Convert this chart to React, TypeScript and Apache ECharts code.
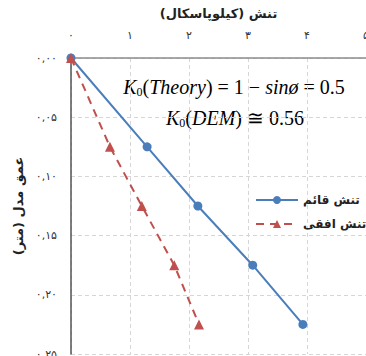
import React, { useEffect, useRef } from "react";
import * as echarts from "echarts";

const seriesNames = ["تنش قائم", "تنش افقی"];
const depth = [0, 0.075, 0.125, 0.175, 0.225];
const verticalStress = [0, 1.29, 2.15, 3.08, 3.93];
const horizontalStress = [0, 0.66, 1.2, 1.75, 2.17];
const xTickLabels = ["۰", "۱", "۲", "۳", "۴", "۵"];
const yTickLabels = ["۰,۰۰", "۰,۰۵", "۰,۱۰", "۰,۱۵", "۰,۲۰", "۰,۲۵"];
const xAxisTitle = "تنش (کیلوپاسکال)";
const yAxisTitle = "عمق مدل (متر)";

const FA = "'DejaVu Sans', sans-serif";
const SERIF = "'Liberation Serif', 'DejaVu Serif', serif";

export default function App() {
  const ref = useRef<HTMLDivElement>(null);
  useEffect(() => {
    const chart = echarts.init(ref.current!, undefined, { renderer: "svg" });
    const it = { fontFamily: SERIF, fontStyle: "italic", fontSize: 20, color: "#111" };
    const nm = { fontFamily: SERIF, fontStyle: "normal", fontSize: 20, color: "#111" };
    const sb = { fontFamily: SERIF, fontStyle: "normal", fontSize: 12, color: "#111", verticalAlign: "bottom", padding: [10, 0, 0, 0] };
    chart.setOption({
      animation: false,
      grid: { left: 71, top: 58, right: 0, bottom: 2, containLabel: false, outerBoundsMode: "none" },
      xAxis: {
        type: "value",
        position: "top",
        min: 0,
        max: 5,
        interval: 1,
        name: xAxisTitle,
        nameLocation: "middle",
        nameGap: 38,
        nameTextStyle: { fontFamily: FA, fontSize: 13, fontWeight: "bold", color: "#222" },
        axisLine: { show: true, lineStyle: { color: "#8c8c8c", width: 1.5 } },
        axisTick: { show: false },
        axisLabel: {
          margin: 17,
          fontFamily: FA,
          fontSize: 11,
          color: "#333",
          formatter: (v: number) => xTickLabels[Math.round(v)] ?? "",
        },
        splitLine: { show: true, lineStyle: { color: "#d6d6d6", type: [4, 3] } },
      },
      yAxis: {
        type: "value",
        inverse: true,
        min: 0,
        max: 0.25,
        interval: 0.05,
        name: yAxisTitle,
        nameLocation: "middle",
        nameGap: 46,
        nameRotate: 90,
        nameTextStyle: { fontFamily: FA, fontSize: 13, fontWeight: "bold", color: "#222" },
        axisLine: { show: true, onZero: false, lineStyle: { color: "#555", width: 1.5 } },
        axisTick: { show: false },
        axisLabel: {
          margin: 14,
          fontFamily: FA,
          fontSize: 11,
          color: "#333",
          formatter: (v: number) => yTickLabels[Math.round(v / 0.05)] ?? "",
        },
        splitLine: { show: true, lineStyle: { color: "#d6d6d6", type: [4, 3] } },
      },
      legend: {
        orient: "vertical",
        left: 250,
        top: 189,
        itemWidth: 42,
        itemHeight: 10,
        itemGap: 12,
        textStyle: { fontFamily: FA, fontSize: 12, fontWeight: "bold", color: "#222" },
        data: seriesNames,
      },
      series: [
        {
          name: seriesNames[0],
          type: "line",
          data: verticalStress.map((x, i) => [x, depth[i]]),
          symbol: "circle",
          symbolSize: 9,
          clip: false,
          itemStyle: { color: "#4a7ebb" },
          lineStyle: { color: "#4a7ebb", width: 2 },
        },
        {
          name: seriesNames[1],
          type: "line",
          data: horizontalStress.map((x, i) => [x, depth[i]]),
          symbol: "triangle",
          symbolSize: 10,
          clip: false,
          itemStyle: { color: "#c0504d" },
          lineStyle: { color: "#c0504d", width: 2, type: [8, 6] },
        },
      ],
      graphic: [
        {
          type: "text",
          x: 234,
          y: 87,
          style: {
            text: "{i|K}{s|0}{n|(}{i|Theory}{n|) = 1 − }{i|sinø}{n| = 0.5}",
            align: "center",
            verticalAlign: "middle",
            rich: { i: it, n: nm, s: sb },
          },
        },
        {
          type: "text",
          x: 235,
          y: 118,
          style: {
            text: "{i|K}{s|0}{n|(}{i|DEM}{n|) ≅ 0.56}",
            align: "center",
            verticalAlign: "middle",
            rich: { i: it, n: nm, s: sb },
          },
        },
      ],
    });
    return () => chart.dispose();
  }, []);
  return <div ref={ref} style={{ width: 366, height: 356, position: "absolute", left: 0, top: 0 }} />;
}
